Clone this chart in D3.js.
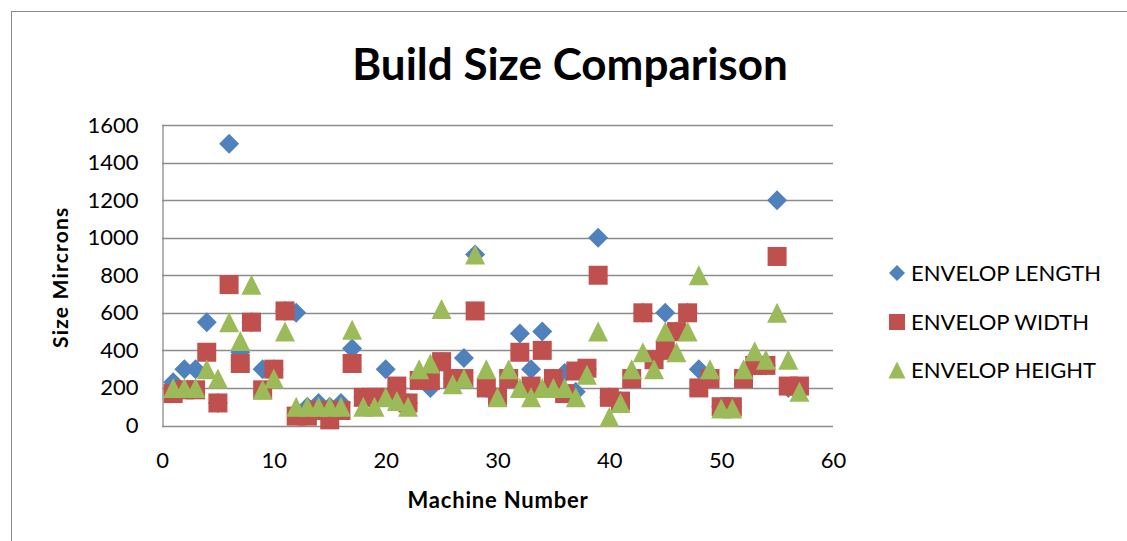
<!DOCTYPE html>
<html>
<head>
<meta charset="utf-8">
<script src="https://cdn.jsdelivr.net/npm/d3@7"></script>
<style>
  html, body { margin: 0; padding: 0; background: #fff; }
  svg { display: block; }
  text { font-family: Lato, "Open Sans", sans-serif; fill: #000; }
</style>
</head>
<body>
<svg id="chart" width="1127" height="541"></svg>
<script>
// Machine numbers 1..57
const machines = d3.range(1, 58);

// Envelope dimensions per machine (microns)
const envelopLength = [
  230, 300, 300, 550, 120, 1500, 390, 550, 300, 300,
  610, 600, 100, 120, 100, 120, 410, 150, 150, 300,
  200, 120, 250, 200, 340, 250, 360, 910, 200, 150,
  250, 490, 300, 500, 250, 280, 180, 300, 1000, 150,
  130, 250, 600, 350, 600, 500, 600, 300, 250, 100,
  100, 250, 320, 320, 1200, 200, 200
];
const envelopWidth = [
  170, 190, 190, 390, 120, 750, 330, 550, 190, 300,
  610, 50, 50, 80, 30, 80, 330, 150, 150, 150,
  210, 120, 240, 240, 340, 250, 250, 610, 200, 150,
  250, 390, 210, 400, 250, 170, 290, 305, 800, 150,
  130, 250, 600, 350, 400, 500, 600, 200, 250, 100,
  100, 250, 320, 320, 900, 210, 210
];
const envelopHeight = [
  200, 200, 200, 300, 250, 550, 450, 750, 190, 250,
  500, 100, 100, 100, 100, 100, 510, 100, 100, 150,
  130, 100, 300, 330, 620, 220, 250, 910, 300, 150,
  300, 200, 150, 200, 200, 200, 150, 270, 500, 45,
  120, 300, 390, 300, 500, 390, 500, 800, 300, 90,
  90, 300, 395, 350, 600, 350, 180
];

const seriesNames = ["ENVELOP LENGTH", "ENVELOP WIDTH", "ENVELOP HEIGHT"];
const seriesColors = ["#4F81BD", "#C0504D", "#9BBB59"];
const xTicks = [0, 10, 20, 30, 40, 50, 60];
const yTicks = [0, 200, 400, 600, 800, 1000, 1200, 1400, 1600];

// Marker shapes, all about 20px across
const diamond = {
  draw(ctx, size) {
    const r = Math.sqrt(size) / 2;
    ctx.moveTo(0, -r); ctx.lineTo(r, 0); ctx.lineTo(0, r); ctx.lineTo(-r, 0); ctx.closePath();
  }
};
const square = {
  draw(ctx, size) {
    const r = Math.sqrt(size) / 2;
    ctx.rect(-r, -r, 2 * r, 2 * r);
  }
};
const triangle = {
  draw(ctx, size) {
    const r = Math.sqrt(size) / 2;
    ctx.moveTo(0, -r); ctx.lineTo(r, r); ctx.lineTo(-r, r); ctx.closePath();
  }
};
const shapes = [diamond, square, triangle];
const markerSizes = [400, 361, 400];

const svg = d3.select("#chart");
const W = 1127, H = 541;

// Outer chart frame
svg.append("rect")
  .attr("x", 11.5).attr("y", 11.5)
  .attr("width", W).attr("height", H)
  .attr("fill", "#fff").attr("stroke", "#8a8a8a").attr("stroke-width", 1);

const plot = { left: 162, right: 833, top: 125, bottom: 425.5 };

const x = d3.scaleLinear().domain([0, 60]).range([plot.left, plot.right]);
const y = d3.scaleLinear().domain([0, 1600]).range([plot.bottom, plot.top]);

// Title
svg.append("text")
  .attr("x", 570).attr("y", 80)
  .attr("text-anchor", "middle")
  .attr("font-size", 44).attr("font-weight", 700)
  .text("Build Size Comparison");

// Horizontal gridlines
svg.append("g")
  .selectAll("line")
  .data(yTicks)
  .join("line")
  .attr("x1", plot.left).attr("x2", plot.right)
  .attr("y1", d => Math.round(y(d)) + 0.5).attr("y2", d => Math.round(y(d)) + 0.5)
  .attr("stroke", "#8c8c8c").attr("stroke-width", 1.3);

// Y axis
const yAxis = svg.append("g")
  .attr("transform", `translate(${plot.left + 0.5},0)`)
  .call(d3.axisLeft(y).tickValues(yTicks).tickSize(0).tickPadding(24).tickFormat(d3.format("d")));
yAxis.select(".domain").attr("stroke", "#8c8c8c").attr("stroke-width", 1.3);
yAxis.selectAll("text").attr("font-size", 22).attr("font-family", "Lato, sans-serif").attr("fill", "#000");

// X axis (labels only; the zero gridline serves as the axis line)
const xAxis = svg.append("g")
  .attr("transform", `translate(0,${plot.bottom})`)
  .call(d3.axisBottom(x).tickValues(xTicks).tickSize(0).tickPadding(27).tickFormat(d3.format("d")));
xAxis.select(".domain").remove();
xAxis.selectAll("text").attr("font-size", 22).attr("font-family", "Lato, sans-serif").attr("fill", "#000");

// Axis titles
svg.append("text")
  .attr("transform", `translate(68,${(plot.top + plot.bottom) / 2 + 2}) rotate(-90)`)
  .attr("text-anchor", "middle")
  .attr("font-size", 21).attr("font-weight", 700)
  .attr("letter-spacing", 1.2)
  .text("Size Mircrons");

svg.append("text")
  .attr("x", 498).attr("y", 508)
  .attr("text-anchor", "middle")
  .attr("font-size", 22).attr("font-weight", 700)
  .attr("letter-spacing", 0.8)
  .text("Machine Number");

// Scatter markers
const allSeries = [envelopLength, envelopWidth, envelopHeight];
allSeries.forEach((vals, i) => {
  svg.append("g")
    .selectAll("path")
    .data(machines.map((m, j) => ({ m, v: vals[j] })))
    .join("path")
    .attr("transform", d => `translate(${x(d.m)},${y(d.v)})`)
    .attr("d", d3.symbol().type(shapes[i]).size(markerSizes[i]))
    .attr("fill", seriesColors[i]);
});

// Legend
const legend = svg.append("g");
const legendY = [273, 322, 370];
const legendSizes = [256, 256, 289];
seriesNames.forEach((name, i) => {
  legend.append("path")
    .attr("transform", `translate(897,${legendY[i]})`)
    .attr("d", d3.symbol().type(shapes[i]).size(legendSizes[i]))
    .attr("fill", seriesColors[i]);
  legend.append("text")
    .attr("x", 911).attr("y", legendY[i])
    .attr("dy", "0.36em")
    .attr("font-size", 22)
    .text(name);
});
</script>
</body>
</html>
